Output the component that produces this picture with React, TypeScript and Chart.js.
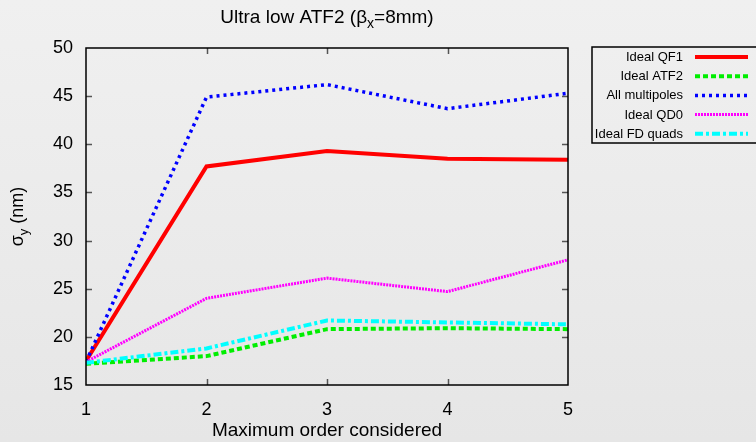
import React, { useEffect, useRef } from "react";
import { Chart, registerables } from "chart.js";

Chart.register(...registerables);

const categories = [1, 2, 3, 4, 5];
const qf1 = [17.5, 37.7, 39.3, 38.5, 38.4];
const atf2 = [17.2, 18.0, 20.8, 20.9, 20.8];
const multipoles = [17.4, 44.9, 46.2, 43.7, 45.3];
const qd0 = [17.4, 24.0, 26.1, 24.7, 28.0];
const fdQuads = [17.3, 18.8, 21.7, 21.5, 21.3];

const seriesNames = ["Ideal QF1", "Ideal ATF2", "All multipoles", "Ideal QD0", "Ideal FD quads"];
const seriesValues = [qf1, atf2, multipoles, qd0, fdQuads];
const seriesColors = ["#ff0000", "#00ee00", "#0000ff", "#ff00ff", "#00ffff"];
const seriesDashes: number[][] = [[], [5, 3], [3, 4], [2, 1], [8, 3, 3, 3]];
const seriesWidths = [4, 4, 3.5, 3, 4];

const xTicks = [1, 2, 3, 4, 5];
const yTicks = [15, 20, 25, 30, 35, 40, 45, 50];

const FONT = "'Liberation Sans', Arial, Helvetica, sans-serif";

type Seg = { t: string; sub?: boolean };

function drawRich(ctx: CanvasRenderingContext2D, segs: Seg[], cx: number, baseY: number, size: number) {
  const subSize = Math.round(size * 0.72);
  let total = 0;
  for (const s of segs) {
    ctx.font = `${s.sub ? subSize : size}px ${FONT}`;
    total += ctx.measureText(s.t).width;
  }
  let x = cx - total / 2;
  ctx.textAlign = "left";
  ctx.textBaseline = "alphabetic";
  for (const s of segs) {
    ctx.font = `${s.sub ? subSize : size}px ${FONT}`;
    ctx.fillText(s.t, x, baseY + (s.sub ? size * 0.25 : 0));
    x += ctx.measureText(s.t).width;
  }
}

const decorPlugin = {
  id: "decor",
  beforeDraw(chart: any) {
    const { ctx } = chart;
    const g = ctx.createLinearGradient(0, 0, 0, chart.height);
    g.addColorStop(0, "#f0f0f0");
    g.addColorStop(1, "#e6e6e6");
    ctx.save();
    ctx.fillStyle = g;
    ctx.fillRect(0, 0, chart.width, chart.height);
    ctx.restore();
  },
  afterDatasetsDraw(chart: any) {
    const { ctx, chartArea } = chart;
    const xs = chart.scales.x;
    const ys = chart.scales.y;
    const { left, right, top, bottom } = chartArea;
    ctx.save();
    // inward ticks
    ctx.strokeStyle = "#555555";
    ctx.lineWidth = 1.5;
    const tl = 6;
    ctx.beginPath();
    for (const v of xTicks) {
      const px = Math.round(xs.getPixelForValue(v)) + 0.5;
      if (Math.abs(px - left) < 2 || Math.abs(px - right) < 2) continue;
      ctx.moveTo(px, bottom);
      ctx.lineTo(px, bottom - tl);
      ctx.moveTo(px, top);
      ctx.lineTo(px, top + tl);
    }
    for (const v of yTicks) {
      const py = Math.round(ys.getPixelForValue(v)) + 0.5;
      if (Math.abs(py - top) < 2 || Math.abs(py - bottom) < 2) continue;
      ctx.moveTo(left, py);
      ctx.lineTo(left + tl, py);
      ctx.moveTo(right, py);
      ctx.lineTo(right - tl, py);
    }
    ctx.stroke();
    // border
    ctx.strokeStyle = "#000000";
    ctx.lineWidth = 1.5;
    ctx.strokeRect(left, top, right - left, bottom - top);

    // title
    ctx.fillStyle = "#000000";
    drawRich(
      ctx,
      [{ t: "Ultra low ATF2 (β" }, { t: "x", sub: true }, { t: "=8mm)" }],
      (left + right) / 2,
      23,
      19
    );
    // y title
    ctx.save();
    ctx.translate(23, (top + bottom) / 2);
    ctx.rotate(-Math.PI / 2);
    drawRich(ctx, [{ t: "σ" }, { t: "y", sub: true }, { t: " (nm)" }], 0, 0, 18);
    ctx.restore();

    // legend
    const boxL = 592;
    const boxT = 47;
    const boxB = 143;
    ctx.strokeStyle = "#000000";
    ctx.lineWidth = 1.5;
    ctx.strokeRect(boxL, boxT, chart.width - boxL + 2, boxB - boxT);
    ctx.font = `13px ${FONT}`;
    ctx.textAlign = "right";
    ctx.textBaseline = "middle";
    for (let i = 0; i < seriesNames.length; i++) {
      const y = 57 + i * 19.2;
      ctx.fillStyle = "#000000";
      ctx.fillText(seriesNames[i], 683, y + 0.5);
      ctx.beginPath();
      ctx.strokeStyle = seriesColors[i];
      ctx.lineWidth = seriesWidths[i];
      ctx.setLineDash(seriesDashes[i]);
      ctx.moveTo(695, y);
      ctx.lineTo(748, y);
      ctx.stroke();
      ctx.setLineDash([]);
    }
    ctx.restore();
  },
};

export default function App() {
  const ref = useRef<HTMLCanvasElement | null>(null);
  useEffect(() => {
    document.body.style.margin = "0";
    if (!ref.current) return;
    const chart = new Chart(ref.current, {
      type: "line",
      data: {
        labels: categories,
        datasets: seriesNames.map((name, i) => ({
          label: name,
          data: categories.map((c, j) => ({ x: c, y: seriesValues[i][j] })),
          borderColor: seriesColors[i],
          backgroundColor: seriesColors[i],
          borderWidth: seriesWidths[i],
          borderDash: seriesDashes[i],
          pointRadius: 0,
          tension: 0,
          fill: false,
          order: seriesNames.length - i,
        })),
      },
      options: {
        animation: false,
        responsive: false,
        layout: { padding: { left: 0, top: 48, right: 188, bottom: 0 } },
        plugins: {
          legend: { display: false },
          title: { display: false },
          tooltip: { enabled: false },
        },
        scales: {
          x: {
            type: "linear",
            min: 1,
            max: 5,
            afterBuildTicks: (s: any) => {
              s.ticks = xTicks.map((v) => ({ value: v }));
            },
            afterFit: (s: any) => {
              s.height = 57;
            },
            grid: { display: false, drawTicks: false },
            border: { display: false },
            ticks: {
              color: "#000000",
              font: { family: FONT, size: 18 },
              padding: 14,
            },
            title: {
              display: true,
              text: "Maximum order considered",
              color: "#000000",
              font: { family: FONT, size: 19 },
              padding: { top: 5, bottom: 0 },
            },
          },
          y: {
            type: "linear",
            min: 15,
            max: 50,
            afterBuildTicks: (s: any) => {
              s.ticks = yTicks.map((v) => ({ value: v }));
            },
            afterFit: (s: any) => {
              s.width = 86;
            },
            grid: { display: false, drawTicks: false },
            border: { display: false },
            ticks: {
              color: "#000000",
              font: { family: FONT, size: 18 },
              padding: 13,
            },
          },
        },
      },
      plugins: [decorPlugin],
    });
    return () => chart.destroy();
  }, []);
  return <canvas ref={ref} width={756} height={442} style={{ display: "block" }} />;
}
